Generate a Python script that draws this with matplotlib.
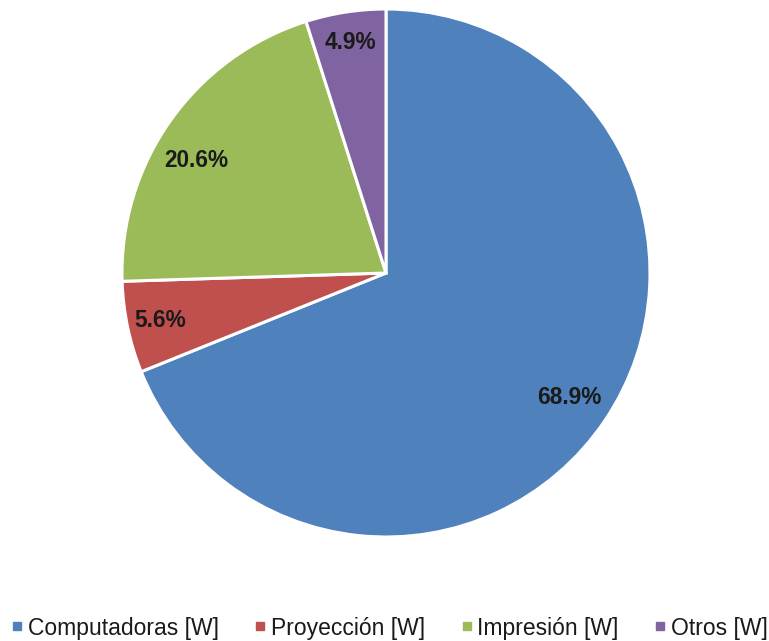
import numpy as np
import matplotlib
matplotlib.use("Agg")
import matplotlib.pyplot as plt
from matplotlib.lines import Line2D

categories = ["Computadoras [W]", "Proyección [W]", "Impresión [W]", "Otros [W]"]
shares = [68.9, 5.6, 20.6, 4.9]
colors = ["#4F81BD", "#C0504D", "#9BBB59", "#8064A2"]
# label placement: fraction of radius and angular shift (degrees) from the wedge middle
label_radius = [0.84, 0.875, 0.835, 0.885]
label_shift = [0.0, 0.0, 4.7, 0.0]

plt.rcParams["font.family"] = ["Liberation Sans", "DejaVu Sans"]

W, H = 769, 641
fig = plt.figure(figsize=(W / 100, H / 100), dpi=100)
cx, cy, r = 386, 273, 264
ax = fig.add_axes([(cx - r) / W, (H - cy - r) / H, 2 * r / W, 2 * r / H])

wedges, _ = ax.pie(shares, colors=colors, startangle=90, counterclock=False,
                   wedgeprops=dict(edgecolor="white", linewidth=2.2))
ax.set_xlim(-1, 1)
ax.set_ylim(-1, 1)
ax.set_aspect("equal")

for w, val, d, s in zip(wedges, shares, label_radius, label_shift):
    mid = np.deg2rad((w.theta1 + w.theta2) / 2 + s)
    ax.text(d * np.cos(mid), d * np.sin(mid), f"{val:.1f}%", ha="center", va="center",
            fontsize=16.3, fontweight="bold", color="#1a1a1a")

handles = [Line2D([], [], marker="s", linestyle="", color=c, markersize=6) for c in colors]
fig.legend(handles, categories, loc="center", bbox_to_anchor=(389 / W, 1 - 628 / H), ncol=4,
           frameon=False, fontsize=16.5, handlelength=0.6, handletextpad=0.17,
           columnspacing=1.5, borderaxespad=0, borderpad=0, labelcolor="#1a1a1a")

fig.savefig("out.png", dpi=100)
